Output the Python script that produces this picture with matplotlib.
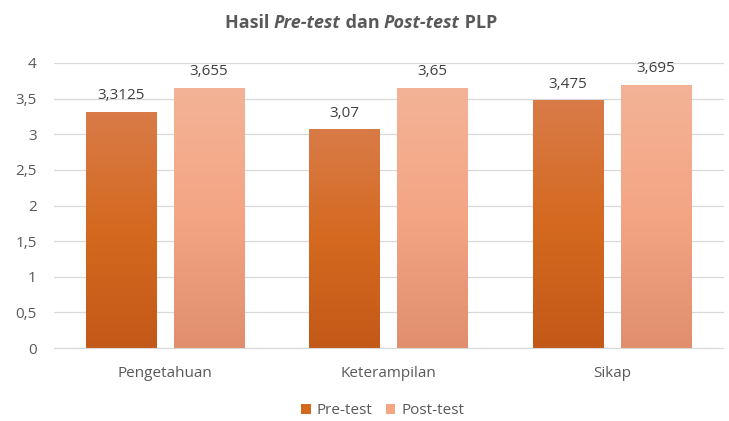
import matplotlib
matplotlib.use("Agg")
import matplotlib.pyplot as plt
import numpy as np
from matplotlib.colors import LinearSegmentedColormap
from matplotlib.patches import Patch

categories = ["Pengetahuan", "Keterampilan", "Sikap"]
pre_test = [3.3125, 3.07, 3.475]
post_test = [3.655, 3.65, 3.695]
pre_labels = ["3,3125", "3,07", "3,475"]
post_labels = ["3,655", "3,65", "3,695"]
yticks = [0, 0.5, 1, 1.5, 2, 2.5, 3, 3.5, 4]
ytick_labels = ["0", "0,5", "1", "1,5", "2", "2,5", "3", "3,5", "4"]

plt.rcParams['font.family'] = ['Open Sans', 'DejaVu Sans']
txt = "#595959"

fig = plt.figure(figsize=(7.29, 4.21), dpi=100)
ax = fig.add_axes([53.5/729, 1-348/421, 670/729, 285/421])

x = np.arange(len(categories))
w = 0.314
gap = 0.08
bars_pre = ax.bar(x - (w+gap)/2, pre_test, w, color="#D2691E", zorder=2)
bars_post = ax.bar(x + (w+gap)/2, post_test, w, color="#F4A582", zorder=2)

cmap_pre = LinearSegmentedColormap.from_list("pre", ["#C35918", "#D4691F", "#D97B48"])
cmap_post = LinearSegmentedColormap.from_list("post", ["#E08E6E", "#F3A584", "#F4B396"])
grad = np.linspace(0, 1, 256).reshape(-1, 1)
for bars, cm in ((bars_pre, cmap_pre), (bars_post, cmap_post)):
    for b in bars:
        x0, y0 = b.get_x(), b.get_y()
        bw, bh = b.get_width(), b.get_height()
        im = ax.imshow(grad, cmap=cm, origin="lower", aspect="auto",
                       extent=[x0, x0+bw, y0, y0+bh], zorder=2.5)
        im.set_clip_path(b)
        b.set_facecolor("none")

for bars, labels in ((bars_pre, pre_labels), (bars_post, post_labels)):
    for b, lab in zip(bars, labels):
        ax.text(b.get_x()+b.get_width()/2, b.get_height()+0.12, lab, ha="center", va="bottom",
                fontsize=11, color="#404040")

ax.set_xlim(-0.5, len(categories)-0.5)
ax.set_ylim(0, 4)
ax.set_yticks(yticks)
ax.set_yticklabels(ytick_labels)
ax.set_xticks(x)
ax.set_xticklabels(categories)
ax.tick_params(axis="both", length=0, labelsize=11, colors=txt)
ax.tick_params(axis="y", pad=12)
ax.tick_params(axis="x", pad=13)
ax.grid(axis="y", color="#D9D9D9", linewidth=0.9, zorder=0)
ax.set_axisbelow(True)
for s in ["top", "right", "left"]:
    ax.spines[s].set_visible(False)
ax.spines["bottom"].set_color("#D9D9D9")

# Title with mixed styles
title_parts = [("Hasil ", "normal"), ("Pre-test", "italic"), (" dan ", "normal"),
               ("Post-test", "italic"), (" PLP", "normal")]
renderer = fig.canvas.get_renderer()
texts = []
for s, st in title_parts:
    t = fig.text(0, 1-23/421, s, fontsize=13, fontweight="bold", style=st,
                 color=txt, va="center", ha="left")
    texts.append(t)
widths = [t.get_window_extent(renderer).width for t in texts]
total = sum(widths)
start = 361 - total/2
for t, wd in zip(texts, widths):
    t.set_x(start/fig.bbox.width)
    start += wd

handles = [Patch(facecolor="#D2691E", label="Pre-test"), Patch(facecolor="#F4A582", label="Post-test")]
fig.legend(handles=handles, loc="center", bbox_to_anchor=(383/729, 1-411/421), ncol=2, frameon=False,
           fontsize=11, handlelength=0.6, handleheight=0.6, handletextpad=0.4, columnspacing=0.9,
           labelcolor=txt)

fig.savefig("out.png", dpi=100)
